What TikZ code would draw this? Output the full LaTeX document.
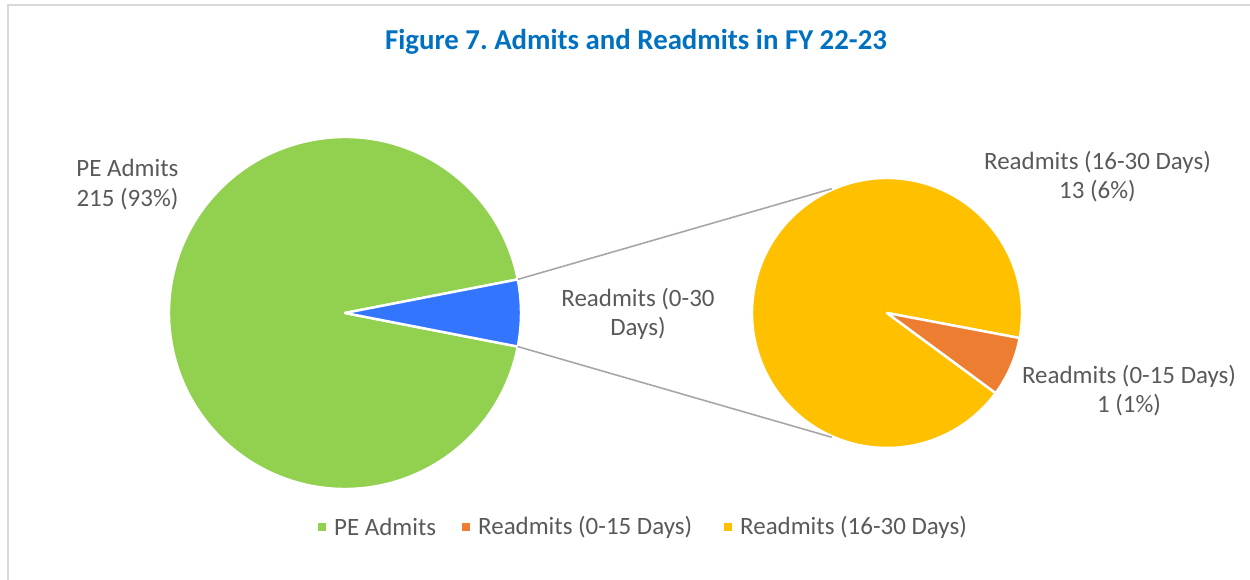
\documentclass[tikz,border=0pt]{standalone}
\usepackage{fontspec}
\setmainfont{Carlito}
\usetikzlibrary{positioning,calc}
\definecolor{peGreen}{HTML}{92D050}
\definecolor{rdBlue}{HTML}{3375FF}
\definecolor{rdOrange}{HTML}{ED7D31}
\definecolor{rdYellow}{HTML}{FFC000}
\definecolor{txtGray}{HTML}{595959}
\definecolor{lnGray}{HTML}{A6A6A6}
\definecolor{frameGray}{HTML}{D9D9D9}
\definecolor{titleBlue}{HTML}{0070C0}
\tikzset{
		slice/.style  = {draw=white, line width=1.4pt, line join=round},
		datalabel/.style = {text=txtGray, align=center, font=\fontsize{14.2}{16.6}\selectfont, inner sep=0pt},
		legsq/.style  = {rectangle, minimum size=0.16cm, inner sep=0pt},
		legtext/.style = {text=txtGray, font=\fontsize{14.2}{16.6}\selectfont, inner sep=0pt}
	}
\begin{document}
\begin{tikzpicture}[x=0.02cm, y=0.02cm]
		\useasboundingbox (0,0) rectangle (1250,580);
		% chart frame
		\draw[frameGray, line width=1.6pt] (8,0) -- (8,575) -- (1250,575);
		% title
		\node[text=titleBlue, font=\fontsize{16.4}{19}\bfseries] (title) at (636,538) {Figure 7.\ Admits and Readmits in FY 22-23};
		% main pie
		\coordinate (lc) at (345,267);
		\fill[peGreen, slice] (lc) -- ++(11:176) arc (11:349:176) -- cycle;
		\fill[rdBlue, slice] (lc) -- ++(-11:176) arc (-11:11:176) -- cycle;
		% secondary pie
		\coordinate (rc) at (887,267);
		\fill[rdYellow, slice] (rc) -- ++(-10.7:135) arc (-10.7:323.6:135) -- cycle;
		\fill[rdOrange, slice] (rc) -- ++(-36.4:135) arc (-36.4:-10.7:135) -- cycle;
		% series lines
		\coordinate (bTop) at ($(lc)+(11:176)$);
		\coordinate (bBot) at ($(lc)+(-11:176)$);
		\coordinate (sTop) at ($(rc)+(114:136)$);
		\coordinate (sBot) at ($(rc)+(246:136)$);
		\draw[lnGray, line width=0.9pt] (bTop) -- (sTop);
		\draw[lnGray, line width=0.9pt] (bBot) -- (sBot);
		% data labels
		\node[datalabel] (lbPE) at (127.5,395.5) {PE Admits\\215 (93\%)};
		\node[datalabel] (lbRd) at (638,266) {Readmits (0-30\\Days)};
		\node[datalabel] (lbLate) at (1097.5,403.5) {Readmits (16-30 Days)\\13 (6\%)};
		\node[datalabel] (lbEarly) at (1129,189.5) {Readmits (0-15 Days)\\1 (1\%)};
		% legend
		\foreach \name/\col/\xpos/\txt in {lg1/peGreen/322/PE Admits,
			lg2/rdOrange/466/Readmits (0-15 Days),
			lg3/rdYellow/728/Readmits (16-30 Days)}
		{
			\node[legsq, fill=\col] (\name) at (\xpos,53) {};
			\node[legtext, right=0.15cm of \name] (\name t) {\txt};
		}
	\end{tikzpicture}
\end{document}
